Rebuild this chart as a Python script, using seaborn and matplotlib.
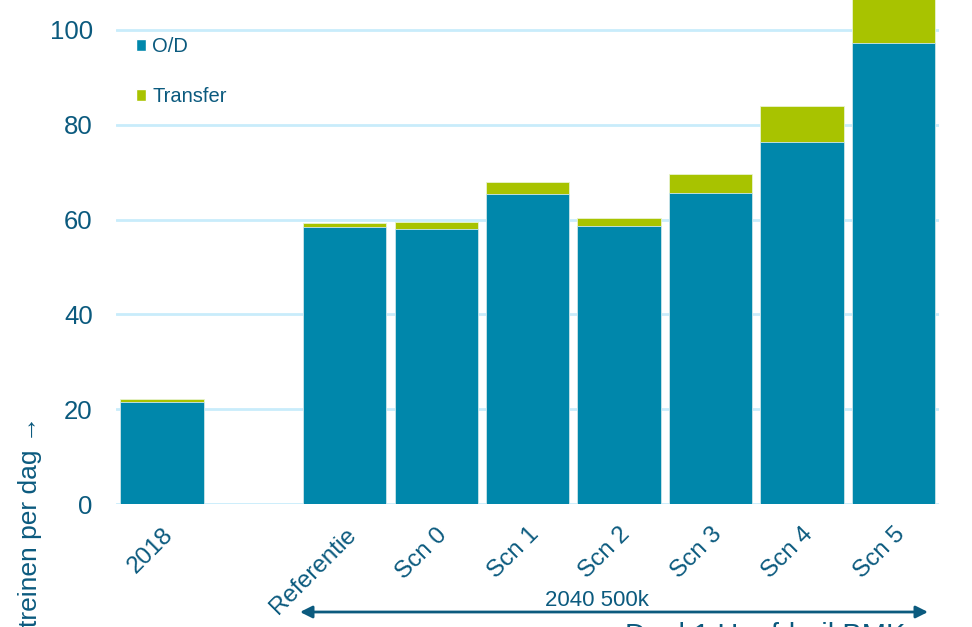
import numpy as np
import pandas as pd
import matplotlib
matplotlib.use('Agg')
import matplotlib.pyplot as plt
import seaborn as sns
from matplotlib.patches import Patch

# Data
categories = ['2018', 'Referentie', 'Scn 0', 'Scn 1', 'Scn 2', 'Scn 3', 'Scn 4', 'Scn 5']
order = ['2018', ' ', 'Referentie', 'Scn 0', 'Scn 1', 'Scn 2', 'Scn 3', 'Scn 4', 'Scn 5']
od_values = [21.5, 58.5, 58.1, 65.3, 58.7, 65.5, 76.4, 97.3]
transfer_values = [0.6, 0.7, 1.4, 2.6, 1.7, 4.1, 7.6, 12.0]
y_ticks = [0, 20, 40, 60, 80, 100]

# Style
OD_COLOR = '#0087AB'
TR_COLOR = '#A8C300'
TEXT_COLOR = '#0B5A7E'
GRID_COLOR = '#C9ECFB'

sns.set_style('white')
plt.rcParams['font.family'] = ['Liberation Sans', 'DejaVu Sans']

df = pd.DataFrame({
    'cat': categories,
    'od': od_values,
    'total': np.array(od_values) + np.array(transfer_values),
})

fig = plt.figure(figsize=(9.72, 6.27), dpi=100)
ax = fig.add_axes([0.1196, 0.196, 0.8465, 0.804])

# stacked bars: total first (transfer colour), O/D on top of it
sns.barplot(data=df, x='cat', y='total', order=order, color=TR_COLOR,
            width=0.91, saturation=1, edgecolor='#E8F4D0', linewidth=0.6, ax=ax, zorder=3)
sns.barplot(data=df, x='cat', y='od', order=order, color=OD_COLOR,
            width=0.91, saturation=1, edgecolor='#CFE7EF', linewidth=0.6, ax=ax, zorder=4)

ax.set_xlim(-0.5, 8.5)
ax.set_ylim(0, 106.3)
ax.set_yticks(y_ticks)
for y in y_ticks:
    ax.axhline(y, color=GRID_COLOR, lw=2, zorder=1)

sns.despine(ax=ax, left=True, bottom=True)
ax.tick_params(axis='both', length=0, colors=TEXT_COLOR)
ax.tick_params(axis='y', pad=17, labelsize=18.5)
ax.tick_params(axis='x', pad=14, labelsize=17.5)
ax.set_xlabel('')
ax.set_ylabel('')
ax.set_xticks(range(len(order)))
ax.set_xticklabels(order, rotation=45, ha='right', rotation_mode='anchor')

# legend
handles = [Patch(facecolor=OD_COLOR, label='O/D'), Patch(facecolor=TR_COLOR, label='Transfer')]
leg = fig.legend(handles=handles, loc='upper left', bbox_to_anchor=(0.1295, 0.957),
                 frameon=False, fontsize=14.5, handlelength=0.5, handleheight=0.5,
                 handletextpad=0.3, labelspacing=1.55, borderpad=0)
for t in leg.get_texts():
    t.set_color(TEXT_COLOR)

# y label
fig.text(0.031, 1 - 416 / 627, 'treinen per dag \u2192', rotation=90, ha='center', va='top',
         fontsize=19, color=TEXT_COLOR)

# period arrow
ax.annotate('', xy=(928 / 972, 1 - 612 / 627), xytext=(300 / 972, 1 - 612 / 627),
            xycoords='figure fraction', textcoords='figure fraction',
            arrowprops=dict(arrowstyle='<|-|>', color=TEXT_COLOR, lw=2, mutation_scale=18,
                            shrinkA=0, shrinkB=0))
fig.text(597 / 972, 1 - 600 / 627, '2040 500k', ha='center', va='center',
         fontsize=16, color=TEXT_COLOR)
fig.text(625 / 972, 1 - 622 / 627, 'Doel 1 Hoofdrail BMK', ha='left', va='top',
         fontsize=21, color=TEXT_COLOR)

fig.savefig('out.png', dpi=100)
plt.close(fig)
